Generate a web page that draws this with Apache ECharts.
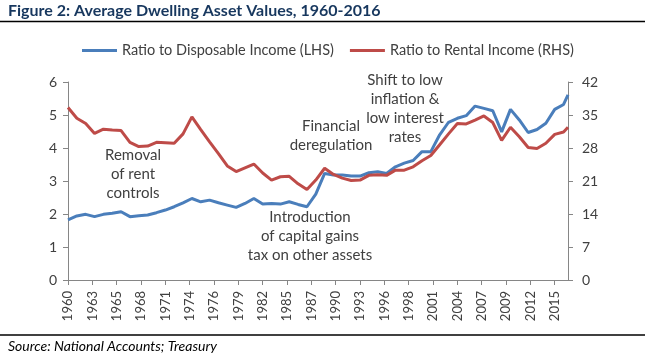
<!DOCTYPE html>
<html><head><meta charset="utf-8">
<script src="https://cdn.jsdelivr.net/npm/echarts@6/dist/echarts.min.js"></script>
<style>html,body{margin:0;padding:0;background:#fff}#c{width:653px;height:361px}</style>
</head><body><div id="c"></div>
<script>
// Annual observations (last one is a partial-year observation)
const years = [1960,1961,1962,1963,1964,1965,1966,1967,1968,1969,
  1970,1971,1972,1973,1974,1975,1976,1977,1978,1979,
  1980,1981,1982,1983,1984,1985,1986,1987,1988,1989,
  1990,1991,1992,1993,1994,1995,1996,1997,1998,1999,
  2000,2001,2002,2003,2004,2005,2006,2007,2008,2009,
  2010,2011,2012,2013,2014,2015,2016,2016.5];
const ratioDisposable = [1.82,1.94,1.99,1.92,1.99,2.02,2.07,1.92,1.95,1.97,
  2.04,2.12,2.22,2.34,2.47,2.37,2.42,2.34,2.27,2.20,
  2.32,2.47,2.30,2.32,2.30,2.37,2.29,2.22,2.60,3.23,
  3.18,3.18,3.15,3.15,3.25,3.28,3.23,3.43,3.54,3.62,
  3.89,3.89,4.40,4.78,4.90,4.98,5.27,5.20,5.13,4.49,
  5.17,4.85,4.47,4.56,4.75,5.17,5.32,5.61];
const ratioRental = [36.6,34.3,33.2,31.1,32.0,31.8,31.7,29.2,28.3,28.4,
  29.2,29.1,29.0,31.0,34.6,31.9,29.3,26.8,24.2,23.0,
  23.8,24.6,22.7,21.2,21.9,22.0,20.4,19.2,21.2,23.7,
  22.4,21.6,21.1,21.2,22.2,22.3,22.2,23.3,23.3,24.0,
  25.3,26.4,28.7,31.0,33.2,33.1,33.9,34.8,33.4,29.6,
  32.4,30.4,28.1,27.9,29.0,30.9,31.4,32.4];
const xTickLabels = ['1960','1963','1965','1968','1971','1974','1976','1979','1982','1985',
  '1987','1990','1993','1996','1998','2001','2004','2007','2009','2012','2015'];
const seriesNames = ['Ratio to Disposable Income (LHS)','Ratio to Rental Income (RHS)'];

const toQ = y => (y - 1960) * 4; // quarters since 1960
const txt = '#404040';
const font = 'Lato, "Open Sans", sans-serif';
const chart = echarts.init(document.getElementById('c'));
const annot = (x, y, lines) => ({
  type: 'text', x: x, y: y,
  style: { text: lines.join('\n'), fill: txt, font: '15px ' + font, align: 'center',
    verticalAlign: 'top', lineHeight: 19 }
});
chart.setOption({
  animation: false,
  grid: { left: 68, right: 85, top: 82, bottom: 81 },
  legend: {
    top: 38, left: 77, itemGap: 16, itemWidth: 35, itemHeight: 3, icon: 'rect',
    textStyle: { color: txt, fontSize: 14.5, fontFamily: font },
    data: seriesNames
  },
  xAxis: {
    type: 'value', min: 0, max: toQ(2016.5), interval: 11,
    splitLine: { show: false },
    axisLine: { lineStyle: { color: '#868686' } },
    axisTick: { show: true, length: 5, lineStyle: { color: '#868686' } },
    axisLabel: {
      rotate: 90, color: txt, fontSize: 13, fontFamily: font, margin: 11, showMaxLabel: false,
      formatter: v => (v % 11 === 0 && xTickLabels[v / 11]) ? xTickLabels[v / 11] : ''
    }
  },
  yAxis: [
    { type: 'value', min: 0, max: 6, interval: 1, splitLine: { show: false },
      axisLine: { show: true, lineStyle: { color: '#868686' } },
      axisTick: { show: true, length: 5, lineStyle: { color: '#868686' } },
      axisLabel: { color: txt, fontSize: 14, fontFamily: font, margin: 11 } },
    { type: 'value', min: 0, max: 42, interval: 7, position: 'right', splitLine: { show: false },
      axisLine: { show: true, lineStyle: { color: '#868686' } },
      axisTick: { show: true, length: 5, lineStyle: { color: '#868686' } },
      axisLabel: { color: txt, fontSize: 14, fontFamily: font, margin: 14 } }
  ],
  series: [
    { name: seriesNames[0], type: 'line', yAxisIndex: 0, symbol: 'none', color: '#4A7EBB',
      lineStyle: { width: 3, color: '#4A7EBB' },
      data: years.map((y, i) => [toQ(y), ratioDisposable[i]]) },
    { name: seriesNames[1], type: 'line', yAxisIndex: 1, symbol: 'none', color: '#BE4B48',
      lineStyle: { width: 3, color: '#BE4B48' },
      data: years.map((y, i) => [toQ(y), ratioRental[i]]) }
  ],
  graphic: [
    { type: 'text', x: 8, y: 3, style: { text: 'Figure 2: Average Dwelling Asset Values, 1960-2016',
      fill: '#17375E', font: 'bold 16px ' + font, verticalAlign: 'top' } },
    { type: 'line', shape: { x1: 0, y1: 21.5, x2: 645, y2: 21.5 }, style: { stroke: '#000', lineWidth: 1.5 } },
    { type: 'line', shape: { x1: 0, y1: 335, x2: 645, y2: 335 }, style: { stroke: '#000', lineWidth: 1.5 } },
    { type: 'text', x: 8, y: 339, style: { text: 'Source: National Accounts; Treasury',
      fill: '#000', font: 'italic 14px ' + font, verticalAlign: 'top' } },
    annot(133, 146, ['Removal', 'of rent', 'controls']),
    annot(331, 117, ['Financial', 'deregulation']),
    annot(405, 71, ['Shift to low', 'inflation &', 'low interest', 'rates']),
    annot(310, 208, ['Introduction', 'of capital gains', 'tax on other assets'])
  ]
});
</script></body></html>
